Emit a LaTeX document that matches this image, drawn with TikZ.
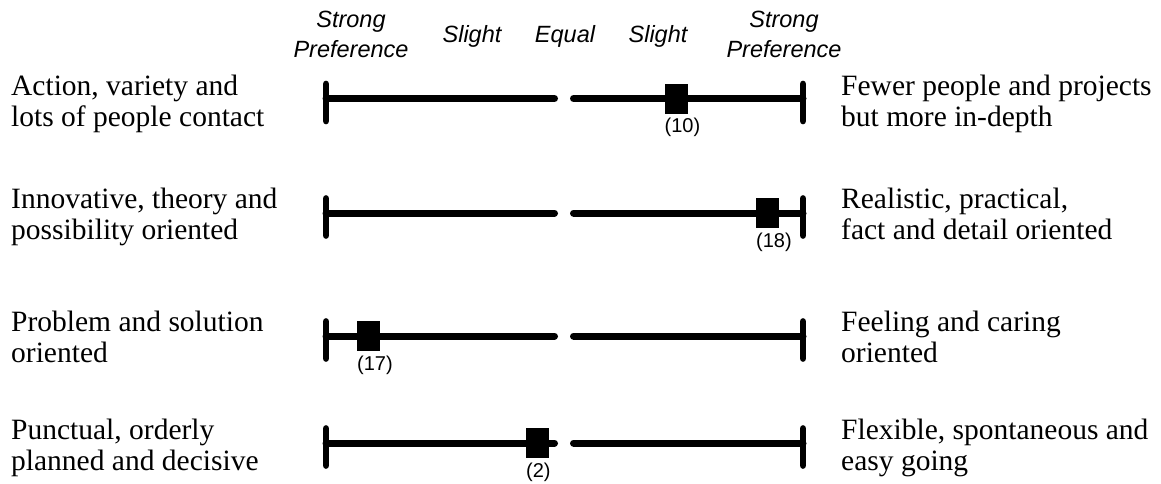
\documentclass[tikz,border=0pt]{standalone}
\usepackage{fontspec}
\setmainfont{Liberation Serif}
\newfontfamily\arialfont{Liberation Sans}
\tikzset{
  side/.style={font=\fontsize{29.5}{31}\selectfont, align=left, inner sep=0pt, anchor=base west},
  hdr/.style={font=\arialfont\itshape\fontsize{23.5}{30}\selectfont, align=center, inner sep=0pt, anchor=base},
  barline/.style={line width=7pt, line cap=round},
  tickline/.style={line width=6.7pt, line cap=round},
  marker/.style={fill=black, draw=none, minimum width=23pt, minimum height=30pt, inner sep=0pt},
  score/.style={font=\arialfont\fontsize{20}{22}\selectfont, inner sep=0pt, anchor=west},
}
\begin{document}
\begin{tikzpicture}[x=1pt,y=-1pt]
\useasboundingbox (0,0) rectangle (1161,483);
% headers
\node[hdr] (h1) at (351,57) {Strong\\Preference};
\node[hdr] (h2) at (472,42) {Slight};
\node[hdr] (h3) at (565,42) {Equal};
\node[hdr] (h4) at (658,42) {Slight};
\node[hdr] (h5) at (784,57) {Strong\\Preference};
% side texts (anchor = baseline of last line)
\node[side] (l1) at (11,126) {Action, variety and\\lots of people contact};
\node[side] (r1) at (841,126) {Fewer people and projects\\but more in-depth};
\node[side] (l2) at (11,239.5) {Innovative, theory and\\possibility oriented};
\node[side] (r2) at (841,239.5) {Realistic, practical,\\fact and detail oriented};
\node[side] (l3) at (11,362.5) {Problem and solution\\oriented};
\node[side] (r3) at (841,362.5) {Feeling and caring\\oriented};
\node[side] (l4) at (11,470.5) {Punctual, orderly\\planned and decisive};
\node[side] (r4) at (841,470.5) {Flexible, spontaneous and\\easy going};
% bars
\foreach \i/\y/\m/\s in {1/98.5/676/10, 2/213/767.5/18, 3/336/368.5/17, 4/443/537.5/2}{
  \coordinate (lt\i a) at (326,\y-14.5);
  \coordinate (lt\i b) at (326,\y+22.5);
  \coordinate (rt\i a) at (803,\y-14.5);
  \coordinate (rt\i b) at (803,\y+22.5);
  \coordinate (la\i) at (326,\y);
  \coordinate (lb\i) at (554.5,\y);
  \coordinate (ra\i) at (573.5,\y);
  \coordinate (rb\i) at (803,\y);
  \draw[tickline] (lt\i a) -- (lt\i b);
  \draw[tickline] (rt\i a) -- (rt\i b);
  \draw[barline] (la\i) -- (lb\i);
  \draw[barline] (ra\i) -- (rb\i);
  \node[marker] (m\i) at (\m,\y) {};
  \node[score] (s\i) at (\m-11.5,\y+29) {(\s)};
}
\end{tikzpicture}
\end{document}
